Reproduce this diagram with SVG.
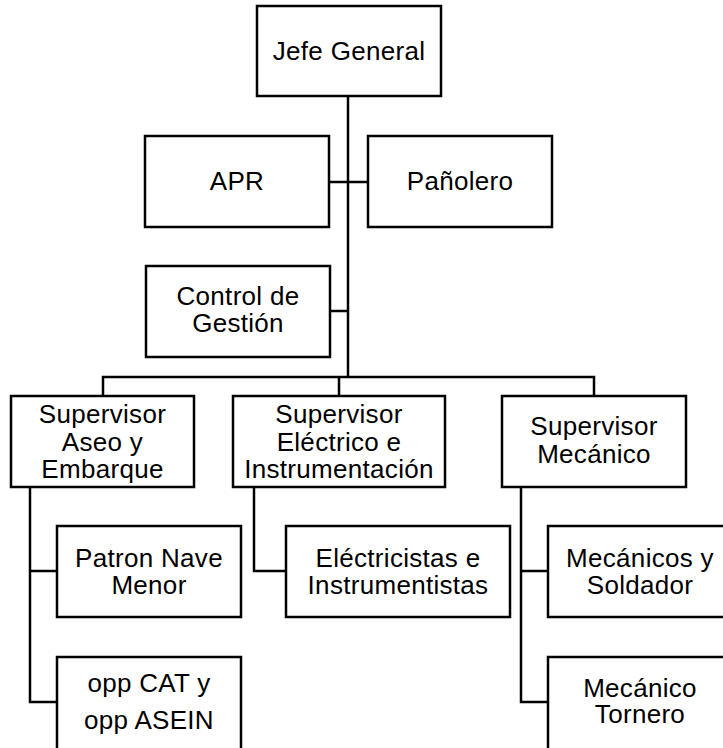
<svg xmlns="http://www.w3.org/2000/svg" width="723" height="748" viewBox="0 0 723 748">
<style>
.box{fill:#fff;stroke:#000;stroke-width:2.5}
.ln{fill:none;stroke:#000;stroke-width:2.5}
text{font-family:"Liberation Sans",Arial,sans-serif;font-size:26px;letter-spacing:0.3px;fill:#000;text-anchor:middle}
</style>
<rect width="723" height="748" fill="#fff"/>
<g id="connectors">
<path class="ln" d="M348 96V377"/>
<path class="ln" d="M329 182H368"/>
<path class="ln" d="M330 311H348"/>
<path class="ln" d="M103 396V377H594V396M339 377V396"/>
<path class="ln" d="M30 487V702H57M30 571H57"/>
<path class="ln" d="M254 487V571H286"/>
<path class="ln" d="M521 487V702H548M521 571H548"/>
</g>
<g id="jefe"><rect class="box" x="257" y="6" width="184" height="90"/><text x="349" y="60">Jefe General</text></g>
<g id="apr"><rect class="box" x="145" y="136" width="184" height="91"/><text x="237" y="190">APR</text></g>
<g id="panolero"><rect class="box" x="368" y="136" width="184" height="91"/><text x="460" y="190">Pañolero</text></g>
<g id="control"><rect class="box" x="146" y="266" width="184" height="91"/><text x="238" y="305">Control de</text><text x="238" y="332">Gestión</text></g>
<g id="sup-aseo"><rect class="box" x="11" y="396" width="183" height="91"/><text x="102.5" y="423">Supervisor</text><text x="102.5" y="450.5">Aseo y</text><text x="102.5" y="478">Embarque</text></g>
<g id="sup-electrico"><rect class="box" x="233" y="396" width="212" height="91"/><text x="339" y="423">Supervisor</text><text x="339" y="450.5">Eléctrico e</text><text x="339" y="478">Instrumentación</text></g>
<g id="sup-mecanico"><rect class="box" x="502" y="396" width="184" height="91"/><text x="594" y="435">Supervisor</text><text x="594" y="462.5">Mecánico</text></g>
<g id="patron"><rect class="box" x="57" y="526" width="184" height="91"/><text x="149" y="567">Patron Nave</text><text x="149" y="594">Menor</text></g>
<g id="opp"><rect class="box" x="57" y="657" width="184" height="96"/><text x="149" y="692">opp CAT y</text><text x="149" y="728.5">opp ASEIN</text></g>
<g id="electricistas"><rect class="box" x="286" y="526" width="224" height="91"/><text x="398" y="567">Eléctricistas e</text><text x="398" y="594">Instrumentistas</text></g>
<g id="mecanicos"><rect class="box" x="548" y="526" width="184" height="91"/><text x="640" y="567">Mecánicos y</text><text x="640" y="594">Soldador</text></g>
<g id="tornero"><rect class="box" x="548" y="657" width="184" height="96"/><text x="640" y="697">Mecánico</text><text x="640" y="723">Tornero</text></g>
</svg>
